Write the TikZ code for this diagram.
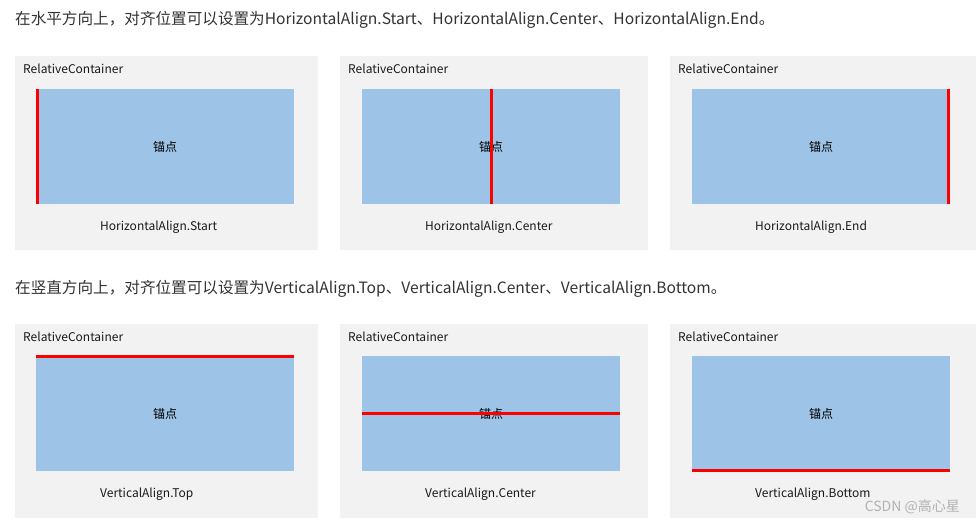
\documentclass[tikz,border=0pt]{standalone}
\usepackage{fontspec}
\setmainfont{Noto Sans CJK SC}
\usepackage{xcolor}
\usepackage{tikz}
\usetikzlibrary{positioning}

\definecolor{panelgray}{HTML}{F2F2F2}
\definecolor{boxblue}{HTML}{9DC3E6}
\definecolor{headgray}{HTML}{333333}

\tikzset{
  panel/.style={fill=panelgray, inner sep=0, minimum width=#1, minimum height=194, anchor=north west},
  anchorbox/.style={fill=boxblue, inner sep=0, minimum width=258, minimum height=115, anchor=north west, font=\fontsize{12}{14}\selectfont},
  redline/.style={red, line width=3pt},
  caption/.style={font=\fontsize{12}{14}\selectfont, text=black!90, inner sep=0, anchor=west},
  heading/.style={font=\fontsize{15.6}{18}\selectfont, text=headgray, inner sep=0, anchor=west}
}

\begin{document}
\begin{tikzpicture}[x=1pt, y=-1pt]
      \useasboundingbox[fill=white] (0,0) rectangle (976,523);

      % horizontal alignment
      \node[heading] (h1) at (15,20) {在水平方向上，对齐位置可以设置为HorizontalAlign.Start、HorizontalAlign.Center、HorizontalAlign.End。};

      \node[panel=303] (p1) at (15,56) {};
      \node[panel=308] (p2) at (340,56) {};
      \node[panel=306] (p3) at (670,56) {};

      \node[caption] (t1) at (23,69) {RelativeContainer};
      \node[caption] (t2) at (348,69) {RelativeContainer};
      \node[caption] (t3) at (678,69) {RelativeContainer};

      \node[anchorbox] (b1) at (36,89) {锚点};
      \node[anchorbox] (b2) at (362,89) {锚点};
      \node[anchorbox] (b3) at (692,89) {锚点};

      \draw[redline] ([xshift=1.5pt]b1.north west) -- ([xshift=1.5pt]b1.south west);
      \draw[redline] (b2.north) -- (b2.south);
      \draw[redline] ([xshift=-1.5pt]b3.north east) -- ([xshift=-1.5pt]b3.south east);

      \node[caption] (l1) at (100,227) {HorizontalAlign.Start};
      \node[caption] (l2) at (425,227) {HorizontalAlign.Center};
      \node[caption] (l3) at (755,227) {HorizontalAlign.End};

      % vertical alignment
      \node[heading] (h2) at (15,289) {在竖直方向上，对齐位置可以设置为VerticalAlign.Top、VerticalAlign.Center、VerticalAlign.Bottom。};

      \node[panel=303] (p4) at (15,324) {};
      \node[panel=308] (p5) at (340,324) {};
      \node[panel=306] (p6) at (670,324) {};

      \node[caption] (t4) at (23,337) {RelativeContainer};
      \node[caption] (t5) at (348,337) {RelativeContainer};
      \node[caption] (t6) at (678,337) {RelativeContainer};

      \node[anchorbox] (b4) at (36,356) {锚点};
      \node[anchorbox] (b5) at (362,356) {锚点};
      \node[anchorbox] (b6) at (692,356) {锚点};

      \draw[redline] ([yshift=-0.5pt]b4.north west) -- ([yshift=-0.5pt]b4.north east);
      \draw[redline] (b5.west) -- (b5.east);
      \draw[redline] ([yshift=0.5pt]b6.south west) -- ([yshift=0.5pt]b6.south east);

      \node[caption] (l4) at (100,494) {VerticalAlign.Top};
      \node[caption] (l5) at (425,494) {VerticalAlign.Center};
      \node[caption] (l6) at (755,494) {VerticalAlign.Bottom};

      \node[font=\fontsize{14}{16}\selectfont, text=black!30, inner sep=0, anchor=east] (wm) at (960,507) {CSDN @高心星};
    \end{tikzpicture}
\end{document}
